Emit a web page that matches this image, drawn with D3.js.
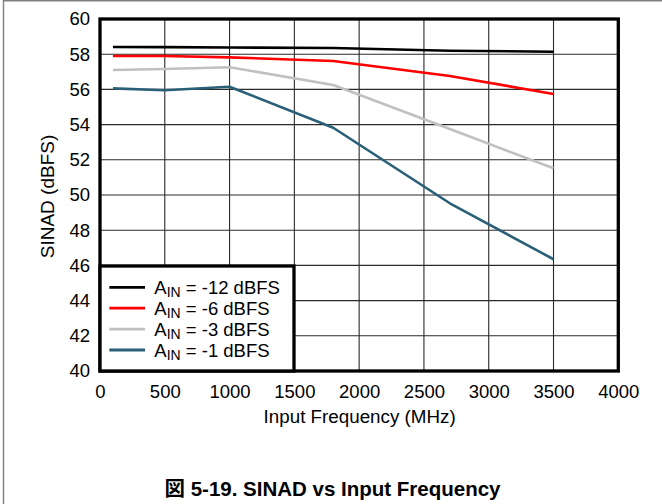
<!DOCTYPE html>
<html>
<head>
<meta charset="utf-8">
<script src="https://cdn.jsdelivr.net/npm/d3@7"></script>
<style>
html,body{margin:0;padding:0;background:#fff;}
svg{display:block;}
text{font-family:"Liberation Sans",Arial,"Noto Sans CJK JP",sans-serif;}
</style>
</head>
<body>
<svg id="chart" width="662" height="504"></svg>
<script>
const frequencies = [100, 500, 1000, 1800, 2700, 3500];
const sinadM12 = [58.41, 58.4, 58.38, 58.35, 58.2, 58.14];
const sinadM6 = [57.9, 57.9, 57.82, 57.61, 56.76, 55.74];
const sinadM3 = [57.1, 57.16, 57.26, 56.25, 53.75, 51.52];
const sinadM1 = [56.06, 55.95, 56.15, 53.82, 49.53, 46.35];
const seriesLevels = ["-12", "-6", "-3", "-1"];
const seriesColors = ["#000000", "#ff0000", "#c0c0c0", "#2a5f78"];
const xTicks = [0, 500, 1000, 1500, 2000, 2500, 3000, 3500, 4000];
const yTicks = [40, 42, 44, 46, 48, 50, 52, 54, 56, 58, 60];
const xTitle = "Input Frequency (MHz)";
const yTitle = "SINAD (dBFS)";
const figTitle = "図 5-19. SINAD vs Input Frequency";

const seriesValues = [sinadM12, sinadM6, sinadM3, sinadM1];

const svg = d3.select("#chart");
const L = 100, R = 618.3, T = 19, B = 371;
const x = d3.scaleLinear().domain([0, 4000]).range([L, R]);
const y = d3.scaleLinear().domain([40, 60]).range([B, T]);

// outer frame (partial)
svg.append("line").attr("x1", 3.5).attr("x2", 662).attr("y1", 0.8).attr("y2", 0.8)
  .attr("stroke", "#808080").attr("stroke-width", 1.6);
svg.append("line").attr("x1", 3.5).attr("x2", 3.5).attr("y1", 0).attr("y2", 504)
  .attr("stroke", "#808080").attr("stroke-width", 1.4);

// grid
const grid = svg.append("g");
grid.selectAll(".vg").data(xTicks.slice(1, -1)).enter().append("line")
  .attr("x1", d => x(d)).attr("x2", d => x(d)).attr("y1", T).attr("y2", B)
  .attr("stroke", "#2a2a2a").attr("stroke-width", 1.1);
grid.selectAll(".hg").data(yTicks.slice(1, -1)).enter().append("line")
  .attr("x1", L).attr("x2", R).attr("y1", d => y(d)).attr("y2", d => y(d))
  .attr("stroke", "#2a2a2a").attr("stroke-width", 1.1);

// series
const line = d3.line().x(d => x(d[0])).y(d => y(d[1]));
seriesValues.forEach((vals, i) => {
  svg.append("path")
    .datum(frequencies.map((f, j) => [f, vals[j]]))
    .attr("d", line).attr("fill", "none")
    .attr("stroke", seriesColors[i]).attr("stroke-width", 2.6)
    .attr("stroke-linejoin", "round");
});

// axes labels
const xAxis = svg.append("g").attr("transform", `translate(0,${B})`)
  .call(d3.axisBottom(x).tickValues(xTicks).tickSize(0).tickPadding(14).tickFormat(d3.format("d")));
xAxis.select(".domain").remove();
xAxis.selectAll("text").attr("font-size", "18.5px").attr("fill", "#000")
  .attr("font-family", '"Liberation Sans",Arial,sans-serif');

const yAxis = svg.append("g").attr("transform", `translate(${L},0)`)
  .call(d3.axisLeft(y).tickValues(yTicks).tickSize(0).tickPadding(10).tickFormat(d3.format("d")));
yAxis.select(".domain").remove();
yAxis.selectAll("text").attr("font-size", "18.5px").attr("fill", "#000")
  .attr("font-family", '"Liberation Sans",Arial,sans-serif');

// plot border
svg.append("rect").attr("x", L).attr("y", T).attr("width", R - L).attr("height", B - T)
  .attr("fill", "none").attr("stroke", "#000").attr("stroke-width", 3.3);

// legend
const lg = svg.append("g");
lg.append("rect").attr("x", L).attr("y", 266).attr("width", 194).attr("height", B - 266)
  .attr("fill", "#fff").attr("stroke", "#000").attr("stroke-width", 3.3);
seriesLevels.forEach((lv, i) => {
  const yy = 287.3 + i * 20.9;
  lg.append("line").attr("x1", 109.3).attr("x2", 145).attr("y1", yy).attr("y2", yy)
    .attr("stroke", seriesColors[i]).attr("stroke-width", 2.8);
  const t = lg.append("text").attr("x", 154.3).attr("y", yy + 6.7)
    .attr("font-size", "18.5px").attr("fill", "#000");
  t.append("tspan").text("A");
  t.append("tspan").attr("font-size", "14px").attr("dy", 3).text("IN");
  t.append("tspan").attr("dy", -3).text(` = ${lv} dBFS`);
});

// axis titles
svg.append("text").attr("x", (L + R) / 2 + 0.5).attr("y", 423)
  .attr("text-anchor", "middle").attr("font-size", "18.8px").attr("fill", "#000").text(xTitle);
svg.append("text").attr("transform", "translate(53.5,196.5) rotate(-90)")
  .attr("text-anchor", "middle").attr("font-size", "19px").attr("fill", "#000").text(yTitle);

// figure title
svg.append("text").attr("x", 332.5).attr("y", 496)
  .attr("text-anchor", "middle").attr("font-size", "20.5px").attr("font-weight", "bold")
  .attr("fill", "#000").text(figTitle);
</script>
</body>
</html>
